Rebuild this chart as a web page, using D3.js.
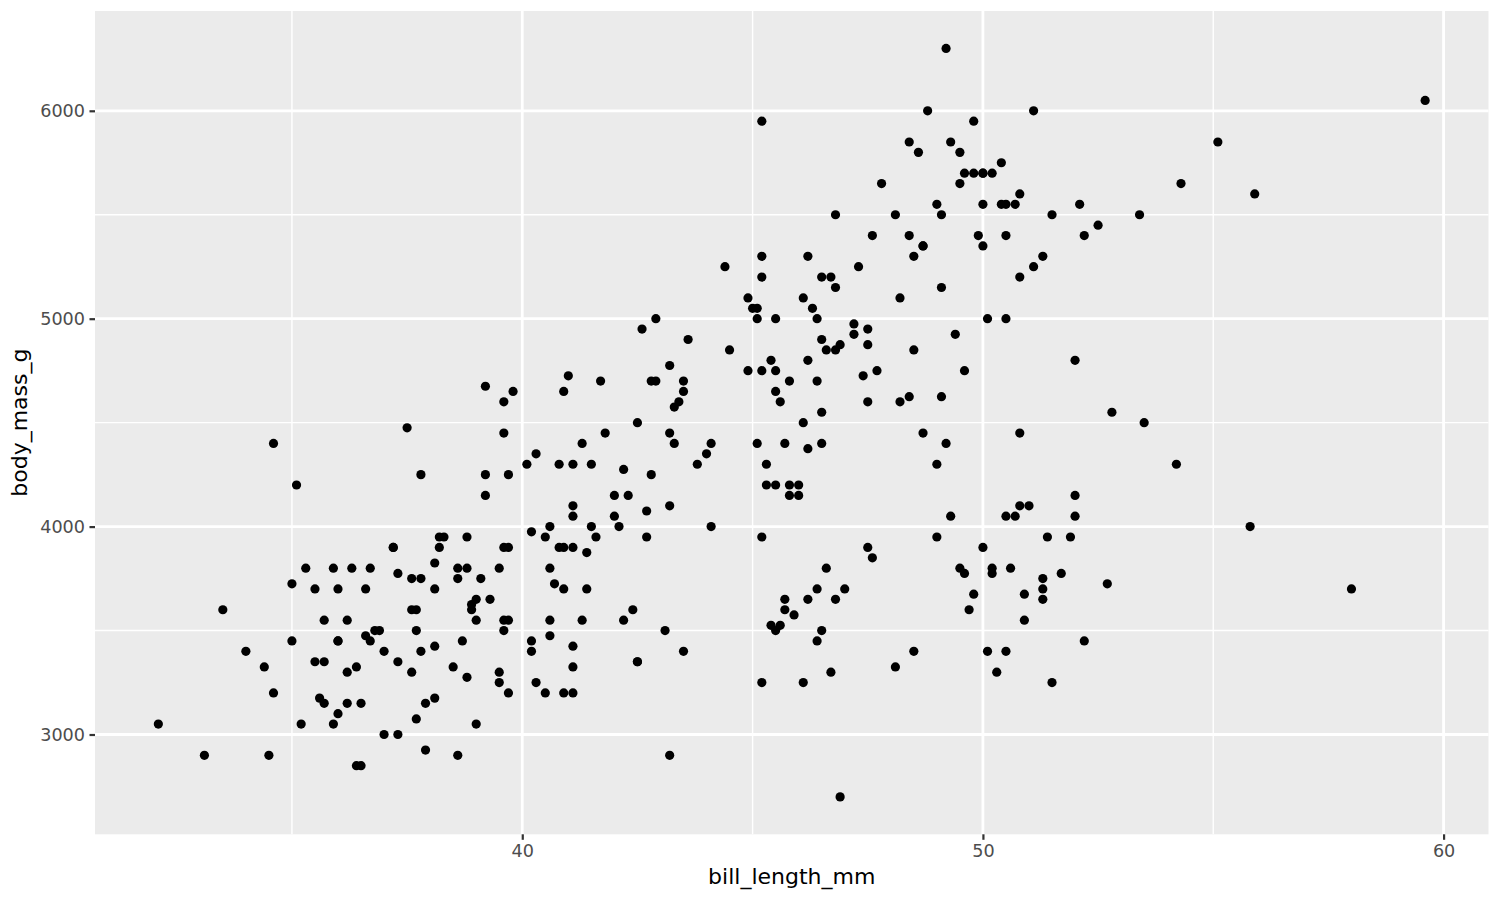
<!DOCTYPE html>
<html><head><meta charset="utf-8">
<script src="https://cdn.jsdelivr.net/npm/d3@7"></script>
<style>body{margin:0;background:#fff} svg{display:block}</style>
</head><body>
<svg id="chart" width="1500" height="900"></svg>
<script>
// Adelie
const adelieBill = [39.1,39.5,40.3,36.7,39.3,38.9,39.2,41.1,38.6,34.6,36.6,38.7,42.5,34.4,46.0,37.8,37.7,35.9,38.2,38.8,35.3,40.6,40.5,37.9,40.5,39.5,37.2,39.5,40.9,36.4,39.2,38.8,42.2,37.6,39.8,36.5,40.8,36.0,44.1,37.0,39.6,41.1,36.0,42.3,39.6,40.1,35.0,42.0,34.5,41.4,39.0,40.6,36.5,37.6,35.7,41.3,37.6,41.1,36.4,41.6,35.5,41.1,35.9,41.8,33.5,39.7,39.6,45.8,35.5,42.8,40.9,37.2,36.2,42.1,34.6,42.9,36.7,35.1,37.3,41.3,36.3,36.9,38.3,38.9,35.7,41.1,34.0,39.6,36.2,40.8,38.1,40.3,33.1,43.2,35.0,41.0,37.7,37.8,37.9,39.7,38.6,38.2,38.1,43.2,38.1,45.6,39.7,42.2,39.6,42.7,38.6,37.3,35.7,41.1,36.2,37.7,40.2,41.4,35.2,40.6,38.8,41.5,39.0,44.1,38.5,43.1,36.8,37.5,38.1,41.1,35.6,40.2,37.0,39.7,40.2,40.6,32.1,40.7,37.3,39.0,39.2,36.6,36.0,37.8,36.0,41.5];
const adelieMass = [3750,3800,3250,3450,3650,3625,4675,3200,3800,4400,3700,3450,4500,3325,4200,3400,3600,3800,3950,3800,3800,3550,3200,3150,3950,3250,3900,3300,3900,3325,4150,3950,3550,3300,4650,3150,3900,3100,4400,3000,4600,3425,3450,4150,3500,4300,3450,4050,2900,3700,3550,3800,2850,3750,3150,4400,3600,4050,2850,3950,3350,4100,3050,4450,3600,3900,3550,4150,3700,4250,3700,3900,3550,4000,3200,4700,3800,4200,3350,3550,3800,3500,3950,3600,3550,4300,3400,4450,3300,4300,3700,4350,2900,4100,3725,4725,3075,4250,2925,3550,3750,3900,3175,4775,3825,4600,3200,4275,3900,4075,2900,3775,3350,3325,3150,3500,3450,3875,3050,4000,3275,4300,3050,4000,3325,3500,3500,4475,3425,3900,3175,3975,3400,4250,3400,3475,3050,3725,3000,3650,4250,3475,3450,3750,3700,4000];
// Gentoo
const gentooBill = [46.1,50.0,48.7,50.0,47.6,46.5,45.4,46.7,43.3,46.8,40.9,49.0,45.5,48.4,45.8,49.3,42.0,49.2,46.2,48.7,50.2,45.1,46.5,46.3,42.9,46.1,47.8,48.2,50.0,47.3,42.8,45.1,59.6,49.1,48.4,42.6,44.4,44.0,48.7,42.7,49.6,45.3,49.6,50.5,43.6,45.5,50.5,44.9,45.2,46.6,48.5,45.1,50.1,46.5,45.0,43.8,45.5,43.2,50.4,45.3,46.2,45.7,54.3,45.8,49.8,49.5,43.5,50.7,47.7,46.4,48.2,46.5,46.4,48.6,47.5,51.1,45.2,45.2,49.1,52.5,47.4,50.0,44.9,50.8,43.4,51.3,47.5,52.1,47.5,52.2,45.5,49.5,44.5,50.8,49.4,46.9,48.4,51.1,48.5,55.9,47.2,49.1,46.8,41.7,53.4,43.3,48.1,50.5,49.8,43.5,51.5,46.2,55.1,48.8,47.2,46.8,50.4,45.2,49.9];
const gentooMass = [4500,5700,4450,5700,5400,4550,4800,5200,4400,5150,4650,5550,4650,5850,4200,5850,4150,6300,4800,5350,5700,5000,4400,5050,5000,5100,5650,4600,5550,5250,4700,5050,6050,5150,5400,4950,5250,4350,5350,3950,5700,4300,4750,5550,4900,4200,5400,5100,5300,4850,5300,4400,5000,4900,5050,4300,5000,4450,5550,4200,5300,4400,5650,4700,5700,5800,4700,5550,4750,5000,5100,5200,4700,5800,4600,6000,4750,5950,4625,5450,4725,5350,4750,5600,4600,5300,4875,5550,4950,5400,4750,5650,4850,5200,4925,4875,4625,5250,4850,5600,4975,5500,5500,4700,5500,4575,5500,5000,5950,4650,5500,4375,5850,6000,4925,4850,5750,5200,5400];
// Chinstrap
const chinstrapBill = [46.5,50.0,51.3,45.4,52.7,45.2,46.1,51.3,46.0,51.3,46.6,51.7,47.0,52.0,45.9,50.5,50.3,58.0,46.4,49.2,42.4,48.5,43.2,50.6,46.7,52.0,50.5,49.5,46.4,52.8,40.9,54.2,42.5,51.0,49.7,47.5,47.6,52.0,46.9,53.5,49.0,46.2,50.9,45.5,50.9,50.8,50.1,49.0,51.5,49.8,48.1,51.4,45.7,50.7,42.5,52.2,45.2,49.3,50.2,45.6,51.9,46.8,45.7,55.8,43.5,49.6,50.8,50.2];
const chinstrapMass = [3500,3900,3650,3525,3725,3950,3250,3750,4150,3700,3800,3775,3700,4050,3575,4050,3300,3700,3450,4400,3600,3400,2900,3800,3300,4150,3400,3800,3700,4550,3200,4300,3350,4100,3600,3900,3850,4800,2700,4500,3950,3650,3550,3500,3675,4450,3400,4300,3250,3675,3325,3950,3600,4050,3350,3450,3250,4050,3800,3525,3950,3650,3650,4000,3400,3775,4100,3775];

const xTicks = [40, 50, 60];
const xMinorTicks = [35, 45, 55];
const yTicks = [3000, 4000, 5000, 6000];
const yMinorTicks = [3500, 4500, 5500];
const xTitle = "bill_length_mm";
const yTitle = "body_mass_g";

const points = [];
[[adelieBill, adelieMass], [gentooBill, gentooMass], [chinstrapBill, chinstrapMass]].forEach(([b, m]) => {
  b.forEach((v, i) => points.push({x: v, y: m[i]}));
});

const W = 1500, H = 900;
const margin = {left: 95, right: 11.5, top: 11, bottom: 65.7};
const pw = W - margin.left - margin.right, ph = H - margin.top - margin.bottom;

function expand(ext) { const r = ext[1] - ext[0]; return [ext[0] - 0.05 * r, ext[1] + 0.05 * r]; }
const x = d3.scaleLinear().domain(expand(d3.extent(points, d => d.x))).range([0, pw]);
const y = d3.scaleLinear().domain(expand(d3.extent(points, d => d.y))).range([ph, 0]);

const svg = d3.select("#chart");
const g = svg.append("g").attr("transform", `translate(${margin.left},${margin.top})`);

g.append("rect").attr("width", pw).attr("height", ph).attr("fill", "#EBEBEB");

// minor grid
g.selectAll(".xminor").data(xMinorTicks).join("line")
  .attr("x1", d => x(d)).attr("x2", d => x(d)).attr("y1", 0).attr("y2", ph)
  .attr("stroke", "#fff").attr("stroke-width", 1.4);
g.selectAll(".yminor").data(yMinorTicks).join("line")
  .attr("y1", d => y(d)).attr("y2", d => y(d)).attr("x1", 0).attr("x2", pw)
  .attr("stroke", "#fff").attr("stroke-width", 1.4);
// major grid
g.selectAll(".xmajor").data(xTicks).join("line")
  .attr("x1", d => x(d)).attr("x2", d => x(d)).attr("y1", 0).attr("y2", ph)
  .attr("stroke", "#fff").attr("stroke-width", 2.8);
g.selectAll(".ymajor").data(yTicks).join("line")
  .attr("y1", d => y(d)).attr("y2", d => y(d)).attr("x1", 0).attr("x2", pw)
  .attr("stroke", "#fff").attr("stroke-width", 2.8);

// axes
const xAxis = g.append("g").attr("transform", `translate(0,${ph})`)
  .call(d3.axisBottom(x).tickValues(xTicks).tickSize(5.5).tickPadding(4.5).tickFormat(d3.format("d")));
const yAxis = g.append("g")
  .call(d3.axisLeft(y).tickValues(yTicks).tickSize(5.5).tickPadding(4.5).tickFormat(d3.format("d")));
[xAxis, yAxis].forEach(a => {
  a.select(".domain").remove();
  a.selectAll(".tick line").attr("stroke", "#333333").attr("stroke-width", 2.2);
  a.selectAll(".tick text").attr("fill", "#4D4D4D").attr("font-family", "DejaVu Sans").attr("font-size", 17.6);
});

// points
g.selectAll("circle.pt").data(points).join("circle")
  .attr("class", "pt")
  .attr("cx", d => x(d.x)).attr("cy", d => y(d.y)).attr("r", 4.6).attr("fill", "#000");

// titles
svg.append("text").attr("x", margin.left + pw / 2).attr("y", 884)
  .attr("text-anchor", "middle").attr("font-family", "DejaVu Sans").attr("font-size", 22)
  .attr("fill", "#000").text(xTitle);
svg.append("text").attr("transform", `translate(27,${margin.top + ph / 2}) rotate(-90)`)
  .attr("text-anchor", "middle").attr("font-family", "DejaVu Sans").attr("font-size", 22)
  .attr("fill", "#000").text(yTitle);
</script>
</body></html>
